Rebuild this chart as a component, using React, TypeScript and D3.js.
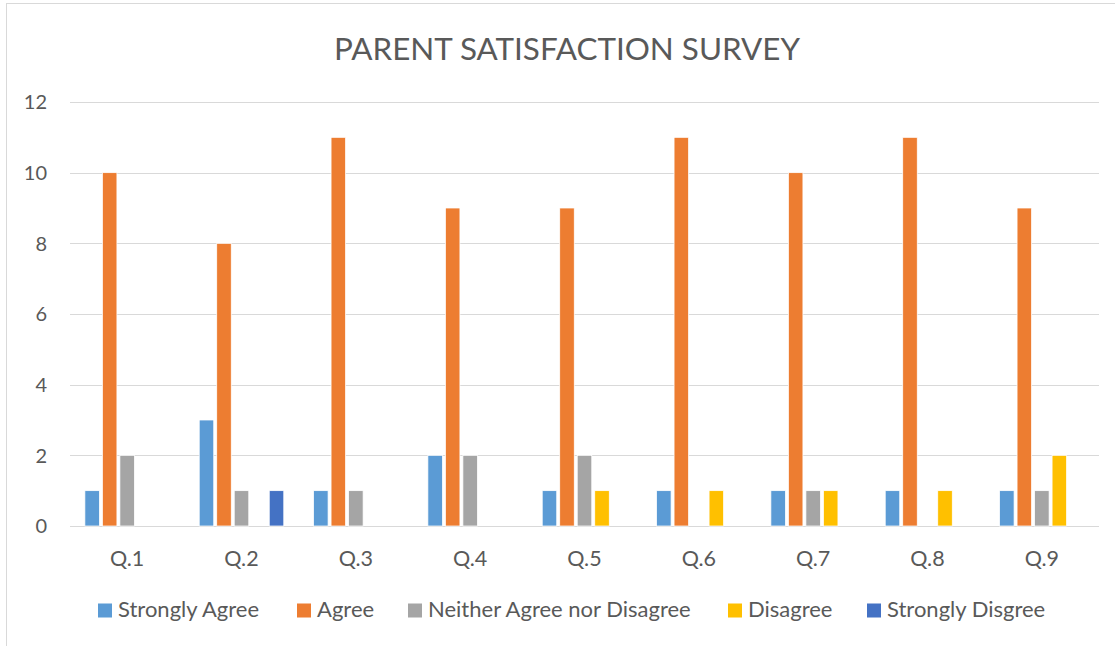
import React from "react";
import * as d3 from "d3";

const categories = ["Q.1", "Q.2", "Q.3", "Q.4", "Q.5", "Q.6", "Q.7", "Q.8", "Q.9"];
const seriesNames = ["Strongly Agree", "Agree", "Neither Agree nor Disagree", "Disagree", "Strongly Disgree"];
const stronglyAgree = [1, 3, 1, 2, 1, 1, 1, 1, 1];
const agree = [10, 8, 11, 9, 9, 11, 10, 11, 9];
const neither = [2, 1, 1, 2, 2, 0, 1, 0, 1];
const disagree = [0, 0, 0, 0, 1, 1, 1, 1, 2];
const stronglyDisagree = [0, 1, 0, 0, 0, 0, 0, 0, 0];
const yTicks = [0, 2, 4, 6, 8, 10, 12];
const colors = ["#5B9BD5", "#ED7D31", "#A5A5A5", "#FFC000", "#4472C4"];
const legendX = [98, 297, 408, 728, 867];

const seriesValues = [stronglyAgree, agree, neither, disagree, stronglyDisagree];

export default function App() {
  const W = 1115, H = 646;
  const left = 70, right = 1099, top = 102, bottom = 526;
  const font = "Lato, 'Open Sans', sans-serif";
  const textColor = "#595959";
  const x0 = d3.scaleBand().domain(categories).range([left, right]).padding(0);
  const x1 = d3.scaleBand().domain(seriesNames).range([0, x0.bandwidth()]).paddingInner(0.17).paddingOuter(0.85);
  const y = d3.scaleLinear().domain([0, 12]).range([bottom, top]);

  return (
    <svg width={W} height={H} style={{ position: "absolute", left: 0, top: 0, background: "#fff" }}>
      <rect x={6.5} y={3.5} width={W + 10} height={H + 10} fill="#fff" stroke="#D9D9D9" strokeWidth={1} />
      <text x={567} y={60} textAnchor="middle" fontFamily={font} fontSize={31} fill={textColor}
        textLength={466} lengthAdjust="spacingAndGlyphs">PARENT SATISFACTION SURVEY</text>
      {yTicks.map((t) => (
        <g key={t}>
          <line x1={left} x2={right} y1={Math.round(y(t)) + 0.5} y2={Math.round(y(t)) + 0.5} stroke="#D9D9D9" strokeWidth={1} />
          <text x={47} y={y(t)} dy="0.36em" textAnchor="end" fontFamily={font} fontSize={20} fill={textColor}>{t}</text>
        </g>
      ))}
      {categories.map((c, i) => (
        <g key={c} transform={`translate(${x0(c)},0)`}>
          {seriesNames.map((s, j) => {
            const v = seriesValues[j][i];
            if (!v) return null;
            return (
              <rect key={s} x={x1(s)!} y={y(v)} width={x1.bandwidth()} height={y(0) - y(v)}
                fill={colors[j]} stroke="#fff" strokeWidth={0.75} />
            );
          })}
          <text x={x0.bandwidth() / 2} y={566} textAnchor="middle" fontFamily={font} fontSize={21.5} fill={textColor}>{c}</text>
        </g>
      ))}
      {seriesNames.map((s, j) => (
        <g key={s}>
          <rect x={legendX[j]} y={603.5} width={14} height={14} fill={colors[j]} />
          <text x={legendX[j] + 20} y={617} fontFamily={font} fontSize={22} fill={textColor}>{s}</text>
        </g>
      ))}
    </svg>
  );
}
